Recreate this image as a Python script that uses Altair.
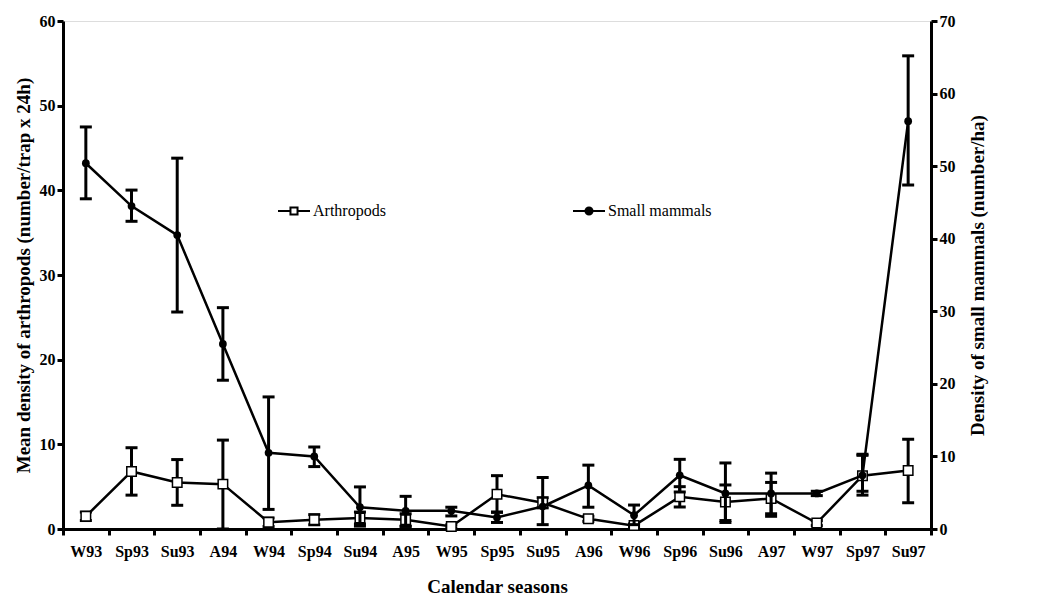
import altair as alt
import pandas as pd

seasons = ['W93', 'Sp93', 'Su93', 'A94', 'W94', 'Sp94', 'Su94', 'A95', 'W95', 'Sp95',
           'Su95', 'A96', 'W96', 'Sp96', 'Su96', 'A97', 'W97', 'Sp97', 'Su97']

# arthropods (left axis)
arth = [1.5, 6.8, 5.5, 5.3, 0.8, 1.1, 1.3, 1.1, 0.3, 4.1, 3.1, 1.2, 0.4, 3.8, 3.2, 3.6, 0.7, 6.3, 6.9]
arth_lo = [1.0, 4.0, 2.8, 0.0, 0.3, 0.5, 0.6, 0.3, 0.1, 2.0, 2.5, 0.9, 0.2, 2.6, 1.0, 1.5, 0.4, 4.0, 3.1]
arth_hi = [2.0, 9.6, 8.2, 10.5, 1.3, 1.7, 2.0, 1.8, 0.5, 6.3, 3.7, 1.5, 0.6, 5.0, 5.2, 5.5, 1.0, 8.7, 10.6]

# small mammals (right axis)
mam = [50.4, 44.5, 40.5, 25.5, 10.5, 10.0, 3.0, 2.5, 2.5, 1.6, 3.1, 6.0, 1.9, 7.4, 4.9, 4.9, 4.9, 7.4, 56.2]
mam_lo = [45.5, 42.4, 29.9, 20.5, 2.7, 8.6, 0.4, 0.4, 1.8, 0.9, 0.6, 3.0, 0.6, 5.1, 0.9, 2.1, 4.6, 5.2, 47.4]
mam_hi = [55.4, 46.7, 51.1, 30.5, 18.2, 11.3, 5.8, 4.5, 3.0, 2.3, 7.1, 8.8, 3.3, 9.6, 9.1, 7.7, 5.2, 10.3, 65.2]

df = pd.DataFrame({'season': seasons, 'arth': arth, 'arth_lo': arth_lo, 'arth_hi': arth_hi,
                   'mam': mam, 'mam_lo': mam_lo, 'mam_hi': mam_hi})

F = 'Liberation Serif'
x = alt.X('season:N', sort=seasons, title='Calendar seasons',
          scale=alt.Scale(paddingInner=0, paddingOuter=0),
          axis=alt.Axis(labelAngle=0, tickBand='extent', domainWidth=3, tickWidth=3, tickSize=6,
                        labelFontSize=16, labelFontWeight='bold', titleFontSize=19, titleFontWeight='bold',
                        labelFont=F, titleFont=F, labelColor='black', titleColor='black',
                        domainColor='black', tickColor='black', titlePadding=18, labelPadding=8))
base = alt.Chart(df).encode(x=x)

def yax(orient, title, dom, step, pad):
    return alt.Axis(orient=orient, title=title, grid=False, values=list(range(0, dom + 1, step)),
                    domainWidth=3, tickWidth=3, tickSize=6, labelFontSize=16, labelFontWeight='bold',
                    titleFontSize=19, titleFontWeight='bold', labelFont=F, titleFont=F, titleAngle=270,
                    titlePadding=pad,
                    labelColor='black', titleColor='black', domainColor='black', tickColor='black')

sa = alt.Scale(domain=[0, 60], nice=False)
sm = alt.Scale(domain=[0, 70], nice=False)
ya = alt.Y('arth:Q', scale=sa, axis=yax('left', 'Mean density of arthropods (number/trap x 24h)', 60, 10, 6))
ym = alt.Y('mam:Q', scale=sm, axis=yax('right', 'Density of small mammals (number/ha)', 70, 10, 32))

arth_layer = alt.layer(
    base.mark_rule(color='black', strokeWidth=3).encode(y=alt.Y('arth_lo:Q', scale=sa), y2='arth_hi:Q'),
    base.mark_tick(color='black', thickness=3, size=12, opacity=1).encode(y=alt.Y('arth_lo:Q', scale=sa)),
    base.mark_tick(color='black', thickness=3, size=12, opacity=1).encode(y=alt.Y('arth_hi:Q', scale=sa)),
    base.mark_line(color='black', strokeWidth=2.5).encode(y=ya),
    base.mark_point(shape='square', filled=True, fill='white', stroke='black', strokeWidth=1.5, size=90, opacity=1).encode(y=ya),
)
mam_layer = alt.layer(
    base.mark_rule(color='black', strokeWidth=3).encode(y=alt.Y('mam_lo:Q', scale=sm), y2='mam_hi:Q'),
    base.mark_tick(color='black', thickness=3, size=12, opacity=1).encode(y=alt.Y('mam_lo:Q', scale=sm)),
    base.mark_tick(color='black', thickness=3, size=12, opacity=1).encode(y=alt.Y('mam_hi:Q', scale=sm)),
    base.mark_line(color='black', strokeWidth=2.5).encode(y=ym),
    base.mark_point(shape='circle', filled=True, color='black', size=60, opacity=1).encode(y=ym),
)

# legend drawn inside the plot
lx = [215, 510]
legend = []
for i, (name, shape, fill) in enumerate([('Arthropods', 'square', 'white'), ('Small mammals', 'circle', 'black')]):
    d = alt.Chart(pd.DataFrame({'t': [name]}))
    legend += [
        d.mark_rule(color='black', strokeWidth=2).encode(x=alt.value(lx[i]), x2=alt.value(lx[i] + 32), y=alt.value(190)),
        d.mark_point(shape=shape, filled=True, fill=fill, stroke='black', size=50, opacity=1).encode(x=alt.value(lx[i] + 16), y=alt.value(190)),
        d.mark_text(align='left', baseline='middle', font=F, fontSize=16, color='black').encode(
            x=alt.value(lx[i] + 35), y=alt.value(190), text='t:N'),
    ]

chart = alt.layer(arth_layer, mam_layer, *legend).resolve_scale(y='independent').properties(
    width=868, height=508
).configure_view(stroke=None).configure(background='white')

chart.save("out.html", embed_options={"renderer": "svg", "actions": False})
